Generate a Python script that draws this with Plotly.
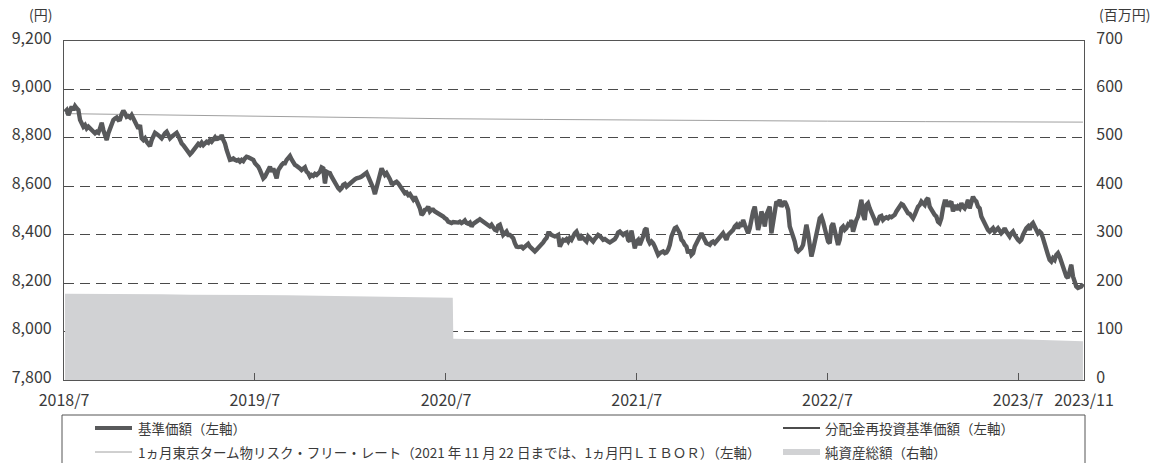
import pandas as pd
import plotly.graph_objects as go

# ---------------- data ----------------
NAV_START = "2018-07-03"
NAV_END = "2023-11-02"
nav_values = [
    # 2018/7 - 2019/11
    8908, 8915, 8894, 8918, 8929, 8915, 8931, 8922, 8915, 8874, 8860, 8846, 8853, 8839, 8846, 8839,
    8832, 8825, 8819, 8825, 8821, 8839, 8862, 8832, 8805, 8791, 8819, 8839, 8846, 8874, 8880, 8884,
    8874, 8876, 8898, 8912, 8901, 8887, 8890, 8884, 8894, 8880, 8867, 8846, 8839, 8853, 8798, 8791,
    8798, 8784, 8777, 8766, 8791, 8812, 8821, 8816, 8812, 8805, 8798, 8812, 8819, 8825, 8812, 8798,
    8805, 8812, 8819, 8821, 8808, 8791, 8777, 8770, 8761, 8753, 8739, 8732, 8739, 8750, 8757, 8766,
    8775, 8770, 8780, 8770, 8777, 8784, 8780, 8791, 8784, 8798, 8802, 8791, 8805, 8794, 8812, 8791,
    8777, 8750, 8722, 8709, 8711, 8715, 8709, 8706, 8709, 8702, 8709, 8704, 8715, 8722, 8720, 8715,
    8714, 8709, 8695, 8688, 8681, 8667, 8647, 8633, 8640, 8654, 8667, 8681, 8660, 8674, 8654, 8633,
    8667, 8681, 8688, 8695, 8695, 8709, 8715, 8725, 8711, 8695, 8688, 8684, 8681, 8674, 8667, 8674,
    8678, 8660, 8654, 8640, 8647, 8643, 8651, 8647, 8656, 8660,
    # 2019/11 - 2021/3
    8678, 8674, 8612, 8660, 8656, 8654, 8640, 8626, 8612, 8599, 8592, 8585, 8592, 8606, 8610, 8599,
    8606, 8612, 8619, 8626, 8629, 8633, 8633, 8637, 8640, 8647, 8654, 8656, 8640, 8626, 8612, 8592,
    8568, 8599, 8626, 8660, 8674, 8660, 8647, 8654, 8643, 8629, 8612, 8610, 8615, 8619, 8612, 8601,
    8585, 8578, 8571, 8574, 8564, 8568, 8560, 8546, 8557, 8544, 8530, 8509, 8482, 8489, 8503, 8505,
    8516, 8496, 8503, 8503, 8496, 8492, 8489, 8486, 8482, 8475, 8468, 8464, 8454, 8450, 8448, 8452,
    8450, 8448, 8450, 8454, 8448, 8452, 8459, 8448, 8445, 8450, 8434, 8445, 8448, 8454, 8459, 8464,
    8459, 8450, 8448, 8441, 8437, 8434, 8441, 8427, 8420, 8417, 8437, 8441, 8413, 8399, 8406, 8413,
    8399, 8399, 8393, 8386, 8365, 8351, 8349, 8349, 8351, 8344, 8349, 8358, 8362, 8351, 8344, 8338,
    8331, 8338, 8344, 8351, 8358, 8368, 8379, 8386, 8406, 8406, 8399, 8395, 8393, 8395, 8399, 8351,
    8368, 8379, 8376, 8382, 8372, 8386, 8379, 8399, 8406,
    # 2021/3 - 2022/7
    8413, 8393, 8379, 8393, 8386, 8379, 8372, 8393, 8386, 8379, 8372, 8382, 8390, 8399, 8395, 8386,
    8379, 8382, 8379, 8372, 8368, 8372, 8376, 8382, 8393, 8409, 8413, 8406, 8399, 8406, 8409, 8379,
    8372, 8417, 8372, 8344, 8372, 8379, 8358, 8372, 8393, 8420, 8427, 8379, 8365, 8372, 8365, 8351,
    8331, 8317, 8324, 8327, 8331, 8324, 8327, 8338, 8358, 8393, 8413, 8427, 8431, 8420, 8406, 8379,
    8372, 8358, 8351, 8324, 8338, 8317, 8324, 8351, 8365, 8379, 8386, 8406, 8393, 8372, 8365, 8362,
    8358, 8368, 8372, 8365, 8372, 8379, 8386, 8393, 8406, 8393, 8379, 8399, 8406, 8413, 8420, 8434,
    8441, 8427, 8441, 8434, 8461, 8441, 8420, 8406, 8427, 8475, 8496, 8516, 8475, 8420, 8448, 8496,
    8475, 8434, 8482, 8496, 8516, 8406, 8461, 8503, 8537, 8530, 8544, 8516, 8530, 8537, 8523, 8503,
    8434, 8406, 8393, 8372, 8338, 8331, 8335, 8344, 8358, 8399, 8441, 8406, 8338, 8310, 8338, 8365,
    8393, 8434, 8468, 8475, 8454, 8420, 8386, 8372, 8365,
    # 2022/7 - 2023/11
    8434, 8447, 8420, 8393, 8358, 8379, 8427, 8434, 8420, 8427, 8441, 8434, 8461, 8413, 8441, 8461,
    8475, 8503, 8544, 8482, 8461, 8523, 8530, 8509, 8496, 8475, 8461, 8441, 8454, 8475, 8478, 8461,
    8468, 8472, 8468, 8475, 8472, 8475, 8482, 8496, 8505, 8516, 8527, 8523, 8509, 8496, 8489, 8486,
    8475, 8468, 8482, 8503, 8516, 8523, 8537, 8530, 8523, 8544, 8551, 8516, 8503, 8489, 8482, 8475,
    8454, 8448, 8468, 8509, 8537, 8537, 8516, 8530, 8537, 8496, 8523, 8503, 8516, 8509, 8530, 8516,
    8509, 8523, 8544, 8509, 8537, 8557, 8544, 8537, 8516, 8509, 8475, 8461, 8441, 8427, 8420, 8413,
    8420, 8427, 8413, 8420, 8427, 8417, 8406, 8413, 8427, 8413, 8399, 8393, 8406, 8413, 8399, 8386,
    8379, 8372, 8379, 8399, 8420, 8427, 8434, 8420, 8441, 8448, 8434, 8420, 8406, 8413, 8406, 8386,
    8358, 8338, 8317, 8296, 8289, 8303, 8296, 8317, 8324, 8310, 8289, 8262, 8241, 8228, 8221, 8262,
    8276, 8228, 8200, 8186, 8180, 8184, 8186, 8197,
]

rate_dates = ["2018-07-03", "2019-01-04", "2019-07-01", "2020-01-06", "2020-07-01", "2021-01-04",
              "2021-07-01", "2022-01-04", "2022-07-01", "2023-01-04", "2023-07-03", "2023-11-02"]
rate_values = [8900, 8894, 8889, 8882, 8879, 8876, 8873, 8871, 8869, 8867, 8866, 8865]

asset_dates = ["2018-07-03", "2018-08-15", "2018-10-01", "2018-11-15", "2019-01-04", "2019-03-01",
               "2019-05-01", "2019-07-01", "2019-09-02", "2019-11-01", "2020-01-06", "2020-03-02",
               "2020-05-01", "2020-07-14", "2020-07-15", "2020-09-01", "2021-01-04", "2021-07-01",
               "2022-01-04", "2022-07-01", "2023-01-04", "2023-05-01", "2023-07-03", "2023-09-01",
               "2023-11-02"]
asset_values = [178, 178, 177, 177, 177, 176, 176, 175, 175, 174, 173, 172, 171, 170,
                85, 84, 84, 84, 84, 85, 85, 85, 84, 82, 80]

tick_dates = ["2018-07-01", "2019-07-01", "2020-07-01", "2021-07-01", "2022-07-01",
              "2023-07-01", "2023-11-04"]
tick_labels = ["2018/7", "2019/7", "2020/7", "2021/7", "2022/7", "2023/7", "2023/11"]

legend_labels = ["基準価額（左軸）",
                 "1ヵ月東京ターム物リスク・フリー・レート（2021 年 11 月 22 日までは、1ヵ月円ＬＩＢＯＲ）（左軸）",
                 "分配金再投資基準価額（左軸）",
                 "純資産総額（右軸）"]

# ---------------- figure ----------------
nav_dates = pd.date_range(NAV_START, NAV_END, periods=len(nav_values))

FONT = "Noto Sans CJK JP"
TXT = "#3a3a3a"
NAV_C = "#58595b"
AREA_C = "#d1d2d4"
RATE_C = "#a0a0a0"

fig = go.Figure()
fig.add_trace(go.Scatter(x=pd.to_datetime(asset_dates), y=asset_values, yaxis="y2",
                         mode="lines", line=dict(width=0, color=AREA_C),
                         fill="tozeroy", fillcolor=AREA_C, hoverinfo="skip",
                         showlegend=False))
fig.add_trace(go.Scatter(x=pd.to_datetime(rate_dates), y=rate_values, mode="lines",
                         line=dict(color=RATE_C, width=1), showlegend=False))
fig.add_trace(go.Scatter(x=nav_dates, y=nav_values, mode="lines",
                         line=dict(color="#000000", width=1.5), showlegend=False))
fig.add_trace(go.Scatter(x=nav_dates, y=nav_values, mode="lines",
                         line=dict(color=NAV_C, width=4.4), showlegend=False))

L, R, T, B = 64, 71, 41, 83
W, H = 1155, 463
pw, ph = W - L - R, H - T - B


def px(x):
    return (x - L) / pw


def py(y):
    return (H - B - y) / ph


fig.update_layout(
    width=W, height=H,
    margin=dict(l=L, r=R, t=T, b=B, autoexpand=False),
    paper_bgcolor="white", plot_bgcolor="white",
    font=dict(family=FONT, color=TXT, size=16),
    showlegend=False,
    xaxis=dict(type="date", range=["2018-07-01", "2023-11-04"],
               tickmode="array", tickvals=tick_dates, ticktext=tick_labels,
               ticks="inside", ticklen=7, tickcolor="#555", tickwidth=1,
               showgrid=False, showline=True, linecolor="#555", linewidth=1.2,
               mirror=True, zeroline=False, ticklabelstandoff=6,
               tickfont=dict(size=16, color=TXT)),
    yaxis=dict(range=[7800, 9200], dtick=200, tickformat=",d", ticks="",
               showgrid=True, gridcolor="#4a4a4a", gridwidth=1, griddash="10px,6px",
               showline=True, linecolor="#555", linewidth=1.2, zeroline=False,
               ticklabelstandoff=8, ticklabelshift=-3, tickfont=dict(size=16, color=TXT)),
    yaxis2=dict(range=[0, 700], dtick=100, overlaying="y", side="right",
                showgrid=False, showline=True, linecolor="#555", linewidth=1.2,
                zeroline=False, ticks="", ticklabelstandoff=8, ticklabelshift=-3,
                tickfont=dict(size=16, color=TXT)),
)

# axis unit titles
fig.add_annotation(text="(円)", x=px(40), y=py(14), xref="paper", yref="paper",
                   xanchor="center", yanchor="middle",
                   showarrow=False, font=dict(size=14, color=TXT))
fig.add_annotation(text="(百万円)", x=px(1124), y=py(14), xref="paper", yref="paper",
                   xanchor="center", yanchor="middle",
                   showarrow=False, font=dict(size=14, color=TXT))

# legend box
fig.add_shape(type="rect", xref="paper", yref="paper", x0=px(62), x1=px(1085),
              y0=py(415), y1=py(480), line=dict(color="#555", width=1), fillcolor="rgba(0,0,0,0)")

rows = [py(428), py(452)]
items = [
    (95, 132, rows[0], NAV_C, 4.2, 136, legend_labels[0]),
    (95, 132, rows[1], RATE_C, 1, 136, legend_labels[1]),
    (783, 820, rows[0], "#111111", 1.6, 823, legend_labels[2]),
    (783, 820, rows[1], AREA_C, 6, 823, legend_labels[3]),
]
for x0, x1, yy, col, wdt, tx, label in items:
    fig.add_shape(type="line", xref="paper", yref="paper", x0=px(x0), x1=px(x1),
                  y0=yy, y1=yy, line=dict(color=col, width=wdt))
    fig.add_annotation(text=label, x=px(tx), y=yy, xref="paper", yref="paper",
                       xanchor="left", yanchor="middle", showarrow=False,
                       font=dict(size=13.5, color=TXT))

fig.write_html("out.html", config={"displayModeBar": False},
               post_script="document.body.style.margin='0px';")
